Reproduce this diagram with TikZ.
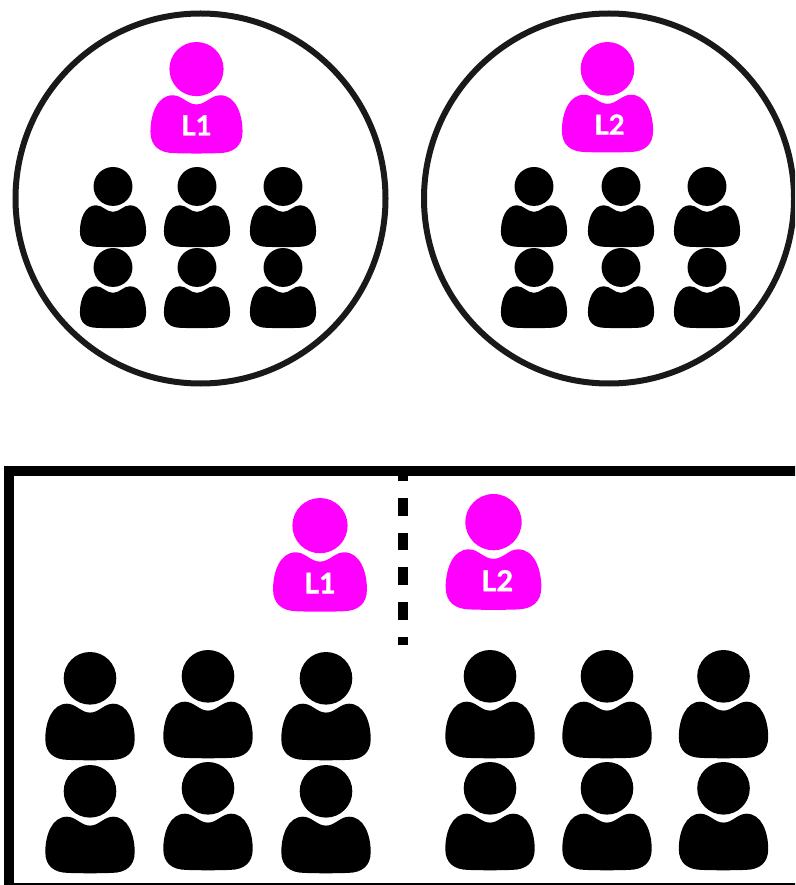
\documentclass[tikz,border=0pt]{standalone}
\usepackage{fontspec}
\setsansfont{Lato}[BoldFeatures={FakeBold=1.3}]
\definecolor{leadpink}{RGB}{255,0,255}
\newcommand{\personpath}{
    (0,26.3) circle (26.3)
    (0,60.6) .. controls (9,60.6) and (14,51.7) .. (23,51.7)
    .. controls (38,51.7) and (44.7,70) .. (44.7,87)
    .. controls (44.7,101) and (36,107.6) .. (22,107.9)
    .. controls (8,108.4) and (-8,108.4) .. (-22,107.9)
    .. controls (-36,107.6) and (-44.7,101) .. (-44.7,87)
    .. controls (-44.7,70) and (-38,51.7) .. (-23,51.7)
    .. controls (-14,51.7) and (-9,60.6) .. (0,60.6) -- cycle
}
\tikzset{
    ring/.style={draw=black!90, line width=6pt},
    frame/.style={draw=black, line width=10pt},
    divider/.style={draw=black, line width=10pt, dash pattern=on 17.5pt off 17.2pt, dash phase=2.7pt},
    leadtext/.style={text=white, inner sep=0pt, transform shape, font=\sffamily\bfseries\fontsize{27}{27}\selectfont},
    pics/member/.style={code={\fill[black] \personpath;}},
    pics/leader/.style 2 args={code={
        \fill[leadpink] \personpath;
        \node[leadtext] (-label) at (#2,81) {#1};
    }},
}
\begin{document}
\begin{tikzpicture}[x=1pt, y=-1pt]
    \useasboundingbox (0,0) rectangle (795,885);
    \clip (0,0) rectangle (795,885);

    % two separate groups
    \draw[ring] (200.5,198.5) circle (185);
    \draw[ring] (609,198.5) circle (185);

    \pic[scale=1.03] (leadA) at (196.5,42) {leader={L1}{0}};
    \pic[scale=1.02] (leadB) at (607.5,42) {leader={L2}{2}};

    \foreach \cx in {113,197,283,534,621,707} {
        \pic[scale=.74] (top\cx) at (\cx,167) {member};
        \pic[scale=.74] (low\cx) at (\cx,248) {member};
    }

    % shared room
    \coordinate (frameNE) at (805,471);
    \coordinate (frameNW) at (9,471);
    \coordinate (frameSW) at (9,888);
    \coordinate (frameSE) at (805,888);
    \draw[frame] (frameNE) -- (frameNW) -- (frameSW) -- (frameSE);

    \coordinate (divTop) at (403,466);
    \coordinate (divEnd) at (403,645);
    \draw[divider] (divTop) -- (divEnd);

    \pic[scale=1.05] (leadC) at (320,498) {leader={L1}{0}};
    \pic[scale=1.07] (leadD) at (493.5,494) {leader={L2}{3.5}};

    \foreach \cx/\ya/\yb in {90/652/765, 208/650/762, 326/652/765, 490/650/762, 607/650/762, 723.5/650/762} {
        \pic (up\cx) at (\cx,\ya) {member};
        \pic (dn\cx) at (\cx,\yb) {member};
    }
\end{tikzpicture}
\end{document}
